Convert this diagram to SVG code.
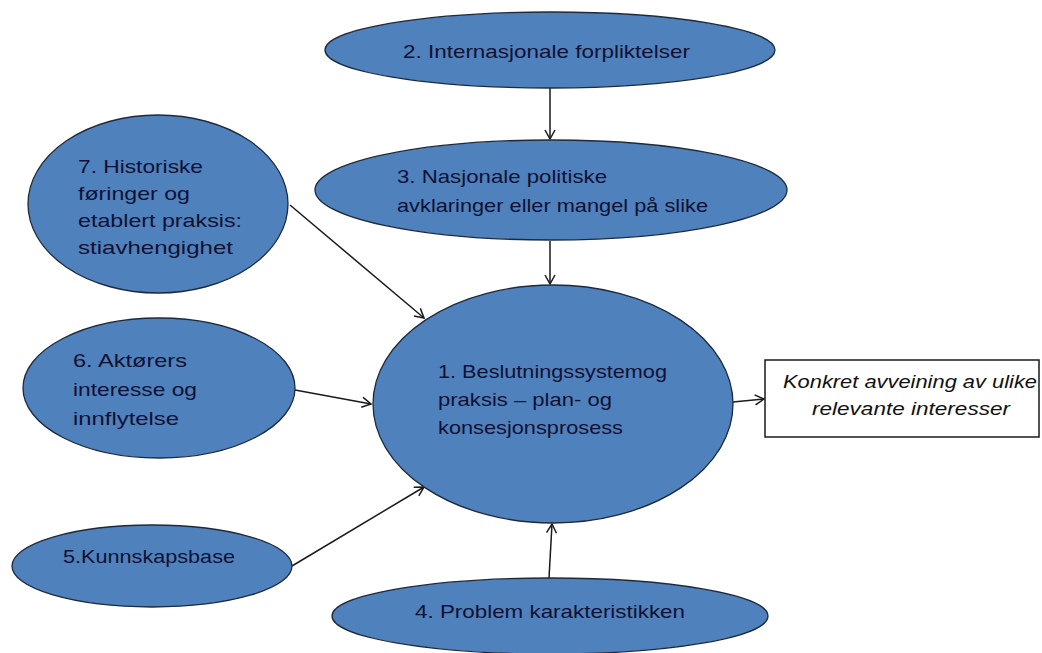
<svg xmlns="http://www.w3.org/2000/svg" width="1042" height="653" viewBox="0 0 1042 653">
<style>
.n{fill:#4F81BD;stroke:#1e2a3a;stroke-width:1.3}
.t{font-family:"Liberation Sans",Arial,sans-serif;font-size:19px;fill:#111133}
.b{font-family:"Liberation Sans",Arial,sans-serif;font-size:19px;font-style:italic;fill:#111}
.c{stroke:#1a1a1a;stroke-width:1.5;fill:none;marker-end:url(#ah)}
</style>
<defs>
<marker id="ah" markerWidth="12" markerHeight="12" refX="10" refY="6" orient="auto" markerUnits="userSpaceOnUse">
<path d="M1,1 L10,6 L1,11" fill="none" stroke="#1a1a1a" stroke-width="1.5"/>
</marker>
</defs>
<rect width="1042" height="653" fill="#fff"/>
<g id="connectors">
<line class="c" x1="550" y1="88" x2="550" y2="139"/>
<line class="c" x1="550" y1="241" x2="550" y2="284"/>
<line class="c" x1="290" y1="205" x2="424" y2="318"/>
<line class="c" x1="295" y1="390" x2="371" y2="404"/>
<line class="c" x1="292" y1="566" x2="424" y2="487"/>
<line class="c" x1="549" y1="578" x2="552" y2="524"/>
<line class="c" x1="733" y1="402" x2="764" y2="399"/>
</g>
<g id="n2">
<ellipse class="n" cx="550" cy="50" rx="225" ry="38"/>
<text class="t" x="403" y="58" textLength="287" lengthAdjust="spacingAndGlyphs">2. Internasjonale forpliktelser</text>
</g>
<g id="n3">
<ellipse class="n" cx="551" cy="190" rx="236" ry="50"/>
<text class="t" x="397" y="183" textLength="210" lengthAdjust="spacingAndGlyphs">3. Nasjonale politiske</text>
<text class="t" x="397" y="212" textLength="311" lengthAdjust="spacingAndGlyphs">avklaringer eller mangel på slike</text>
</g>
<g id="n1">
<ellipse class="n" cx="553" cy="404" rx="180" ry="119"/>
<text class="t" x="438" y="378" textLength="229" lengthAdjust="spacingAndGlyphs">1. Beslutningssystemog</text>
<text class="t" x="438" y="406" textLength="174" lengthAdjust="spacingAndGlyphs">praksis – plan- og</text>
<text class="t" x="438" y="434" textLength="185" lengthAdjust="spacingAndGlyphs">konsesjonsprosess</text>
</g>
<g id="n7">
<ellipse class="n" cx="158" cy="204" rx="130" ry="89"/>
<text class="t" x="78" y="173" textLength="125" lengthAdjust="spacingAndGlyphs">7. Historiske</text>
<text class="t" x="78" y="200" textLength="112" lengthAdjust="spacingAndGlyphs">føringer og</text>
<text class="t" x="78" y="227" textLength="164" lengthAdjust="spacingAndGlyphs">etablert praksis:</text>
<text class="t" x="78" y="254" textLength="155" lengthAdjust="spacingAndGlyphs">stiavhengighet</text>
</g>
<g id="n6">
<ellipse class="n" cx="159" cy="388" rx="136" ry="70"/>
<text class="t" x="73" y="367" textLength="114" lengthAdjust="spacingAndGlyphs">6. Aktørers</text>
<text class="t" x="73" y="396" textLength="124" lengthAdjust="spacingAndGlyphs">interesse og</text>
<text class="t" x="73" y="425" textLength="106" lengthAdjust="spacingAndGlyphs">innflytelse</text>
</g>
<g id="n5">
<ellipse class="n" cx="152" cy="566" rx="140" ry="41"/>
<text class="t" x="63" y="563" textLength="172" lengthAdjust="spacingAndGlyphs">5.Kunnskapsbase</text>
</g>
<g id="n4">
<ellipse class="n" cx="550" cy="616" rx="218" ry="38"/>
<text class="t" x="415" y="618" textLength="270" lengthAdjust="spacingAndGlyphs">4. Problem karakteristikken</text>
</g>
<g id="out">
<rect x="765" y="360" width="274" height="77" fill="#fff" stroke="#1a1a1a" stroke-width="1.5"/>
<text class="b" x="783" y="388" textLength="254" lengthAdjust="spacingAndGlyphs">Konkret avveining av ulike</text>
<text class="b" x="812" y="415" textLength="198" lengthAdjust="spacingAndGlyphs">relevante interesser</text>
</g>
</svg>
